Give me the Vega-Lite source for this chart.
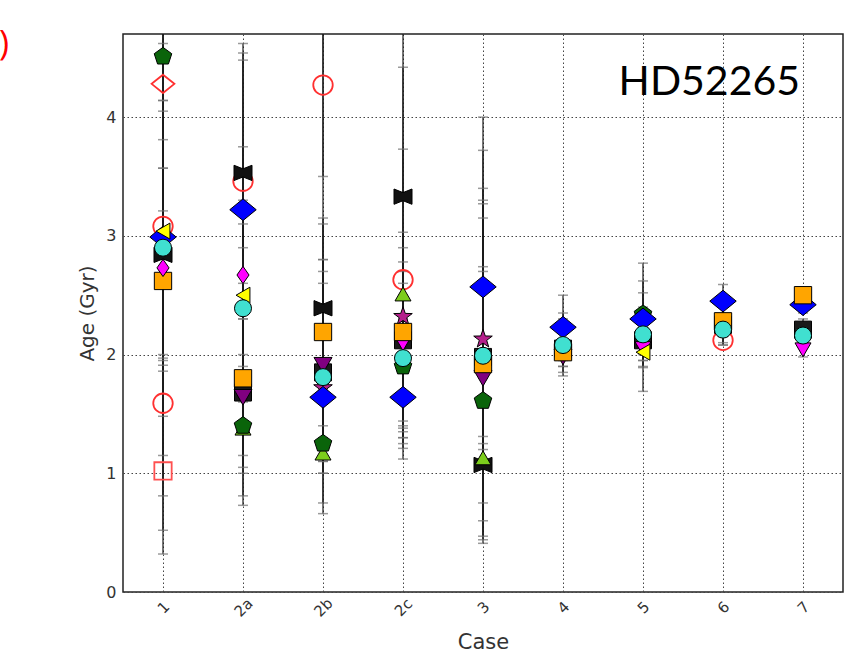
{
  "$schema": "https://vega.github.io/schema/vega-lite/v6.json",
  "width": 720,
  "height": 558,
  "autosize": {"type": "none"},
  "padding": {"left": 123, "top": 34, "right": 22, "bottom": 74},
  "background": "white",
  "config": {
    "view": {"stroke": "#222", "strokeWidth": 1.5},
    "font": "DejaVu Sans",
    "axis": {"grid": true, "gridDash": [1.5, 2.5], "gridColor": "#444", "gridWidth": 1, "domain": false, "ticks": false, "labelColor": "#333", "titleColor": "#333", "titleFontWeight": "normal"}
  },
  "datasets": {
    "pts": [
      {"c": "1", "s": "S1", "a": 3.08, "lo": 1.97, "hi": 4.62},
      {"c": "2a", "s": "S1", "a": 3.46, "lo": 2.5, "hi": 4.54},
      {"c": "2b", "s": "S1", "a": 4.27, "lo": 3.5, "hi": 5.0},
      {"c": "2c", "s": "S1", "a": 2.63, "lo": 1.44, "hi": 5.0},
      {"c": "6", "s": "S1", "a": 2.12, "lo": 2.08, "hi": 2.2},
      {"c": "1", "s": "S1b", "a": 1.59, "lo": 0.32, "hi": 2.86},
      {"c": "1", "s": "S2", "a": 1.02, "lo": 0.81, "hi": 1.95},
      {"c": "1", "s": "S3", "a": 4.28, "lo": 3.57, "hi": 5.0},
      {"c": "2a", "s": "S15", "a": 1.68, "lo": 1.0, "hi": 2.3},
      {"c": "2b", "s": "S15", "a": 1.85, "lo": 1.2, "hi": 2.8},
      {"c": "2c", "s": "S15", "a": 2.12, "lo": 1.3, "hi": 2.7},
      {"c": "3", "s": "S15", "a": 1.98, "lo": 0.75, "hi": 3.4},
      {"c": "4", "s": "S15", "a": 2.05, "lo": 1.82, "hi": 2.3},
      {"c": "5", "s": "S15", "a": 2.12, "lo": 1.9, "hi": 2.52},
      {"c": "6", "s": "S15", "a": 2.25, "lo": 2.08, "hi": 2.45},
      {"c": "7", "s": "S15", "a": 2.21, "lo": 2.15, "hi": 2.3},
      {"c": "1", "s": "S12", "a": 2.84, "lo": 0.52, "hi": 5.2},
      {"c": "2a", "s": "S12", "a": 3.53, "lo": 2.9, "hi": 4.62},
      {"c": "2b", "s": "S12", "a": 2.39, "lo": 1.1, "hi": 4.9},
      {"c": "2c", "s": "S12", "a": 3.33, "lo": 2.3, "hi": 4.42},
      {"c": "3", "s": "S12", "a": 1.07, "lo": 0.41, "hi": 1.8},
      {"c": "2a", "s": "S10", "a": 1.64, "lo": 0.81, "hi": 2.3},
      {"c": "2b", "s": "S10", "a": 1.91, "lo": 1.1, "hi": 2.7},
      {"c": "3", "s": "S10", "a": 1.8, "lo": 0.47, "hi": 3.15},
      {"c": "4", "s": "S10", "a": 1.98, "lo": 1.9, "hi": 2.1},
      {"c": "2b", "s": "S14", "a": 1.72, "lo": 1.2, "hi": 2.6},
      {"c": "2c", "s": "S14", "a": 2.32, "lo": 1.3, "hi": 3.03},
      {"c": "3", "s": "S14", "a": 2.13, "lo": 1.2, "hi": 3.72},
      {"c": "2c", "s": "S11", "a": 2.09, "lo": 1.12, "hi": 2.9},
      {"c": "5", "s": "S11", "a": 2.05, "lo": 1.95, "hi": 2.2},
      {"c": "7", "s": "S11", "a": 2.04, "lo": 1.98, "hi": 2.1},
      {"c": "2a", "s": "S13", "a": 1.38, "lo": 0.73, "hi": 2.0},
      {"c": "2b", "s": "S13", "a": 1.17, "lo": 1.0, "hi": 1.4},
      {"c": "2c", "s": "S13", "a": 2.51, "lo": 1.38, "hi": 3.73},
      {"c": "3", "s": "S13", "a": 1.13, "lo": 0.6, "hi": 2.7},
      {"c": "1", "s": "S4", "a": 4.51, "lo": 4.14, "hi": 4.9},
      {"c": "2a", "s": "S4", "a": 1.4, "lo": 1.15, "hi": 1.7},
      {"c": "2b", "s": "S4", "a": 1.25, "lo": 1.0, "hi": 1.6},
      {"c": "2c", "s": "S4", "a": 1.9, "lo": 1.4, "hi": 2.5},
      {"c": "3", "s": "S4", "a": 1.61, "lo": 0.44, "hi": 2.74},
      {"c": "5", "s": "S4", "a": 2.34, "lo": 1.89, "hi": 2.77},
      {"c": "1", "s": "S5", "a": 2.99, "lo": 1.91, "hi": 3.81},
      {"c": "2a", "s": "S5", "a": 3.22, "lo": 2.4, "hi": 4.48},
      {"c": "2b", "s": "S5", "a": 1.64, "lo": 0.66, "hi": 2.8},
      {"c": "2c", "s": "S5", "a": 1.64, "lo": 1.25, "hi": 2.2},
      {"c": "3", "s": "S5", "a": 2.57, "lo": 1.31, "hi": 4.0},
      {"c": "4", "s": "S5", "a": 2.23, "lo": 1.95, "hi": 2.5},
      {"c": "5", "s": "S5", "a": 2.3, "lo": 1.69, "hi": 2.62},
      {"c": "6", "s": "S5", "a": 2.45, "lo": 2.3, "hi": 2.59},
      {"c": "7", "s": "S5", "a": 2.42, "lo": 2.35, "hi": 2.5},
      {"c": "1", "s": "S7", "a": 2.62, "lo": 1.15, "hi": 4.14},
      {"c": "2a", "s": "S7", "a": 1.8, "lo": 1.05, "hi": 2.6},
      {"c": "2b", "s": "S7", "a": 2.19, "lo": 1.3, "hi": 3.15},
      {"c": "2c", "s": "S7", "a": 2.19, "lo": 1.21, "hi": 2.78},
      {"c": "3", "s": "S7", "a": 1.92, "lo": 1.1, "hi": 3.27},
      {"c": "4", "s": "S7", "a": 2.02, "lo": 1.9, "hi": 2.2},
      {"c": "6", "s": "S7", "a": 2.28, "lo": 2.15, "hi": 2.4},
      {"c": "7", "s": "S7", "a": 2.5, "lo": 2.45, "hi": 2.55},
      {"c": "1", "s": "S8", "a": 2.73, "lo": 1.86, "hi": 3.21},
      {"c": "2a", "s": "S8", "a": 2.67, "lo": 1.9, "hi": 3.75},
      {"c": "1", "s": "S9", "a": 3.04, "lo": 2.0, "hi": 4.05},
      {"c": "2a", "s": "S9", "a": 2.5, "lo": 1.8, "hi": 3.3},
      {"c": "5", "s": "S9", "a": 2.02, "lo": 1.95, "hi": 2.1},
      {"c": "1", "s": "S6", "a": 2.9, "lo": 1.48, "hi": 3.57},
      {"c": "2a", "s": "S6", "a": 2.39, "lo": 1.6, "hi": 3.1},
      {"c": "2b", "s": "S6", "a": 1.81, "lo": 0.75, "hi": 3.1},
      {"c": "2c", "s": "S6", "a": 1.97, "lo": 1.35, "hi": 2.6},
      {"c": "3", "s": "S6", "a": 1.99, "lo": 1.25, "hi": 3.3},
      {"c": "4", "s": "S6", "a": 2.08, "lo": 1.85, "hi": 2.35},
      {"c": "5", "s": "S6", "a": 2.17, "lo": 2.0, "hi": 2.4},
      {"c": "6", "s": "S6", "a": 2.21, "lo": 2.1, "hi": 2.3},
      {"c": "7", "s": "S6", "a": 2.16, "lo": 2.1, "hi": 2.22}
    ],
    "notes": [
      {"c": "7", "a": 4.29, "t": "HD52265", "k": "label"},
      {"c": "1", "a": 4.61, "t": ")", "k": "paren"}
    ]
  },
  "layer": [
    {
      "data": {"name": "pts"},
      "mark": {"type": "rule", "color": "#1a1a1a", "strokeWidth": 1.2, "clip": true},
      "encoding": {
        "x": {
          "field": "c", "type": "ordinal",
          "scale": {"type": "point", "domain": ["1", "2a", "2b", "2c", "3", "4", "5", "6", "7"], "padding": 0.5},
          "axis": {"title": "Case", "titleFontSize": 21, "titlePadding": 12, "labelAngle": -45, "labelAlign": "center", "labelBaseline": "middle", "labelFontSize": 15, "labelPadding": 15}
        },
        "y": {
          "field": "lo", "type": "quantitative",
          "scale": {"domain": [0, 4.7], "nice": false, "zero": false},
          "axis": {"title": "Age (Gyr)", "titleFontSize": 20, "titlePadding": 8, "values": [0, 1, 2, 3, 4], "format": "d", "labelFontSize": 16, "labelPadding": 7}
        },
        "y2": {"field": "hi"}
      }
    },
    {
      "data": {"name": "pts"},
      "transform": [{"fold": ["lo", "hi"], "as": ["end", "val"]}],
      "mark": {"type": "tick", "color": "#707070", "size": 10, "thickness": 1.5, "clip": true, "orient": "horizontal"},
      "encoding": {
        "x": {"field": "c", "type": "ordinal"},
        "y": {"field": "val", "type": "quantitative"}
      }
    },
    {
      "data": {"name": "pts"},
      "mark": {"type": "point", "filled": true, "opacity": 1},
      "encoding": {
        "x": {"field": "c", "type": "ordinal"},
        "y": {"field": "a", "type": "quantitative"},
        "shape": {
          "field": "s", "type": "nominal", "legend": null,
          "scale": {
            "domain": ["S1", "S1b", "S2", "S3", "S15", "S12", "S10", "S14", "S11", "S13", "S4", "S5", "S7", "S8", "S9", "S6"],
            "range": ["circle", "circle", "square", "M0,-0.8L1,0L0,0.8L-1,0Z", "square", "M-1,-0.85L0,-0.45L1,-0.85L1,0.85L0,0.45L-1,0.85Z", "triangle-down", "M0,-1L0.235,-0.324L0.951,-0.309L0.38,0.124L0.588,0.809L0,0.4L-0.588,0.809L-0.38,0.124L-0.951,-0.309L-0.235,-0.324Z", "triangle-down", "triangle-up", "M0,-1L0.951,-0.309L0.588,0.809L-0.588,0.809L-0.951,-0.309Z", "M0,-0.82L1,0L0,0.82L-1,0Z", "square", "M0,-1L0.7,0L0,1L-0.7,0Z", "triangle-left", "circle"]
          }
        },
        "fill": {
          "field": "s", "type": "nominal", "legend": null,
          "scale": {
            "domain": ["S1", "S1b", "S2", "S3", "S15", "S12", "S10", "S14", "S11", "S13", "S4", "S5", "S7", "S8", "S9", "S6"],
            "range": ["transparent", "transparent", "transparent", "transparent", "#1a1a1a", "#111111", "#800080", "#b5208c", "#ff00ff", "#7ccd1c", "#0a640a", "#0000ff", "#ffa500", "#ff00ff", "#ffff00", "#40e0d0"]
          }
        },
        "stroke": {
          "field": "s", "type": "nominal", "legend": null,
          "scale": {
            "domain": ["S1", "S1b", "S2", "S3", "S15", "S12", "S10", "S14", "S11", "S13", "S4", "S5", "S7", "S8", "S9", "S6"],
            "range": ["#ff3030", "#ff3030", "#ff5050", "#ff3030", "#000000", "#000000", "#000000", "#000000", "#000000", "#000000", "#000000", "#000000", "#000000", "#000000", "#000000", "#000000"]
          }
        },
        "size": {
          "field": "s", "type": "nominal", "legend": null,
          "scale": {
            "type": "ordinal",
            "domain": ["S1", "S1b", "S2", "S3", "S15", "S12", "S10", "S14", "S11", "S13", "S4", "S5", "S7", "S8", "S9", "S6"],
            "range": [380, 380, 300, 520, 289, 324, 324, 380, 256, 256, 340, 700, 300, 300, 256, 290]
          }
        },
        "strokeWidth": {
          "field": "s", "type": "nominal", "legend": null,
          "scale": {
            "type": "ordinal",
            "domain": ["S1", "S1b", "S2", "S3", "S15", "S12", "S10", "S14", "S11", "S13", "S4", "S5", "S7", "S8", "S9", "S6"],
            "range": [1.8, 1.8, 1.8, 1.8, 1, 1, 1, 1, 1, 1, 1, 1, 1, 1, 1, 1]
          }
        }
      }
    },
    {
      "data": {"name": "notes"},
      "transform": [{"filter": "datum.k == 'label'"}],
      "mark": {"type": "text", "align": "right", "baseline": "middle", "dx": -3, "font": "Lato", "fontSize": 41, "color": "#000"},
      "encoding": {
        "x": {"field": "c", "type": "ordinal"},
        "y": {"field": "a", "type": "quantitative"},
        "text": {"field": "t"}
      }
    },
    {
      "data": {"name": "notes"},
      "transform": [{"filter": "datum.k == 'paren'"}],
      "mark": {"type": "text", "align": "center", "baseline": "middle", "dx": -159, "font": "Open Sans", "fontSize": 34, "color": "#ff0000"},
      "encoding": {
        "x": {"field": "c", "type": "ordinal"},
        "y": {"field": "a", "type": "quantitative"},
        "text": {"field": "t"}
      }
    }
  ]
}
